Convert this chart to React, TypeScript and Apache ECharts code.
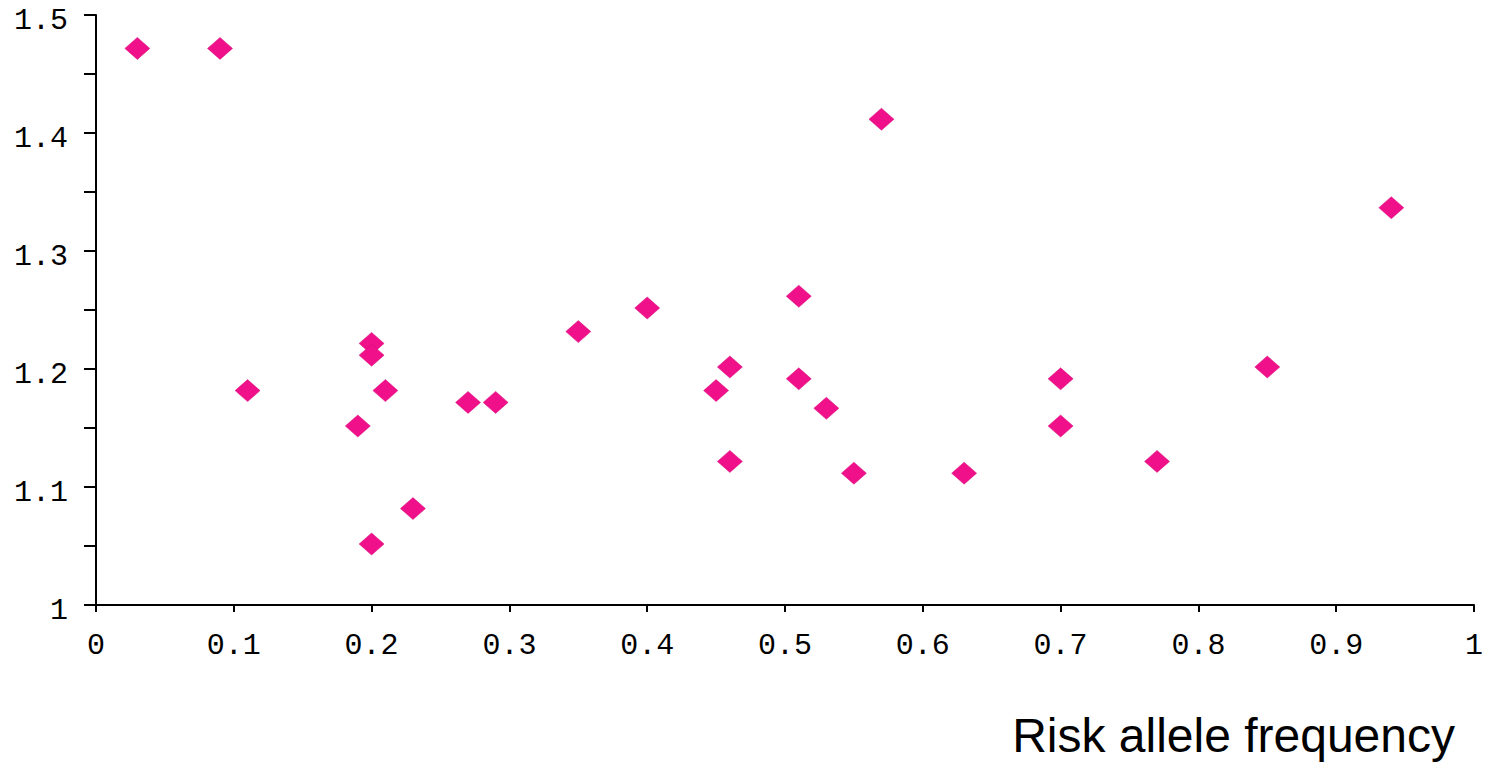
import React, { useEffect, useRef } from "react";
import * as echarts from "echarts";

const frequency = [0.03, 0.09, 0.57, 0.94, 0.51, 0.40, 0.35, 0.20, 0.20, 0.11, 0.21, 0.46, 0.85, 0.45, 0.51, 0.70, 0.27, 0.29, 0.53, 0.19, 0.70, 0.46, 0.77, 0.55, 0.63, 0.23, 0.20];
const oddsRatio = [1.47, 1.47, 1.41, 1.335, 1.26, 1.25, 1.23, 1.22, 1.21, 1.18, 1.18, 1.20, 1.20, 1.18, 1.19, 1.19, 1.17, 1.17, 1.165, 1.15, 1.15, 1.12, 1.12, 1.11, 1.11, 1.08, 1.05];
const xTitle = "Risk allele frequency";

export default function App() {
  const ref = useRef<HTMLDivElement>(null);
  useEffect(() => {
    if (!ref.current) return;
    const chart = echarts.init(ref.current, null, { renderer: "svg" });
    const points = frequency.map((f, i) => [f, oddsRatio[i]]);
    const mono = "'Liberation Mono', 'DejaVu Sans Mono', monospace";
    chart.setOption({
      animation: false,
      backgroundColor: "#ffffff",
      grid: { left: 96, right: 21, top: 15, bottom: 161, containLabel: false },
      xAxis: {
        type: "value",
        min: 0,
        max: 1,
        interval: 0.1,
        axisLine: { lineStyle: { color: "#000", width: 2 } },
        axisTick: { show: true, length: 7, lineStyle: { color: "#000", width: 2 } },
        axisLabel: { color: "#000", fontFamily: mono, fontSize: 30, margin: 26 },
        splitLine: { show: false },
      },
      yAxis: {
        type: "value",
        min: 1,
        max: 1.5,
        interval: 0.1,
        axisLine: { show: true, lineStyle: { color: "#000", width: 2 } },
        axisTick: { show: true, length: 12, lineStyle: { color: "#000", width: 2 } },
        minorTick: { show: true, splitNumber: 2, length: 12, lineStyle: { color: "#000", width: 2 } },
        axisLabel: { color: "#000", fontFamily: mono, fontSize: 30, margin: 28, verticalAlign: "top", lineHeight: 12 },
        splitLine: { show: false },
      },
      graphic: [
        {
          type: "text",
          right: 40,
          top: 711,
          style: {
            text: xTitle,
            fontFamily: "'Liberation Sans', Arial, sans-serif",
            fontSize: 48,
            fill: "#000",
          },
        },
      ],
      series: [
        {
          type: "scatter",
          data: points,
          symbol: "diamond",
          symbolSize: [25, 22],
          symbolOffset: [0, -2],
          itemStyle: { color: "#ef108a", opacity: 1, borderColor: "#d80c7a", borderWidth: 0.5 },
        },
      ],
    });
    return () => chart.dispose();
  }, []);
  return <div ref={ref} style={{ width: 1495, height: 766, position: "absolute", left: 0, top: 0 }} />;
}
